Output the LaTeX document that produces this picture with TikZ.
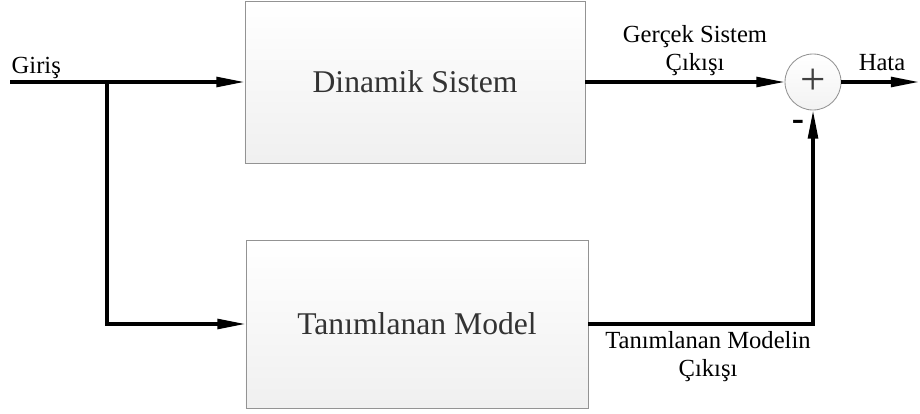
\documentclass[tikz,border=0pt]{standalone}
\usepackage{fontspec}
\setmainfont{Liberation Serif}
\usetikzlibrary{calc,positioning,arrows.meta,shadows}

\begin{document}
\begin{tikzpicture}[x=0.025cm, y=-0.025cm, lbl/.style={inner sep=1pt, align=center, font=\fontsize{17.5}{20}\selectfont}]
\tikzstyle{blk}=[draw=gray!85, line width=0.6pt, top color=white, bottom color=gray!12, drop shadow={opacity=0.25, shadow xshift=0.8pt, shadow yshift=-0.8pt}, minimum width=8.5cm, minimum height=4.05cm, font=\fontsize{22.5}{26}\selectfont, text=black!80]
\tikzstyle{sumj}=[circle, draw=gray!85, line width=0.6pt, top color=white, bottom color=gray!10, minimum size=1.4cm, inner sep=0pt, font=\fontsize{32}{32}\selectfont, text=black!75]
\tikzstyle{sig}=[line width=2.2pt, -{Triangle[length=20pt, width=7pt]}]
\useasboundingbox (0,0) rectangle (920,414);
\node[blk] (sys) at (415,82) {Dinamik Sistem};
\node[blk, minimum width=8.55cm, minimum height=4.2cm] (mdl) at (417,324) {Tanımlanan Model};
\node[sumj] (sum) at (813,82) {+};
\coordinate (in) at (10,82);
\coordinate (br) at (107,82);
\coordinate (out) at (919,82);
\draw[sig] (in) -- (sys.west);
\draw[line width=2.2pt] (br) |- ($(mdl.west)+(-20,0)$);
\draw[sig] ($(mdl.west)+(-21,0)$) -- (mdl.west);
\draw[sig] (sys.east) -- (sum.west);
\draw[sig] (mdl.east) -| (sum.south);
\draw[sig] (sum.east) -- (out);
\node[lbl, anchor=base west] (gir) at (10,73) {Giriş};
\node[lbl] (gso) at (695,51) {Gerçek Sistem\\Çıkışı};
\node[lbl] (hata) at (882,63) {Hata};
\node[lbl] (tmo) at (708,357) {Tanımlanan Modelin\\Çıkışı};
\node[inner sep=0pt, anchor=base, font=\fontsize{26}{26}\selectfont\bfseries] (neg) at (798,130) {-};
\end{tikzpicture}
\end{document}
